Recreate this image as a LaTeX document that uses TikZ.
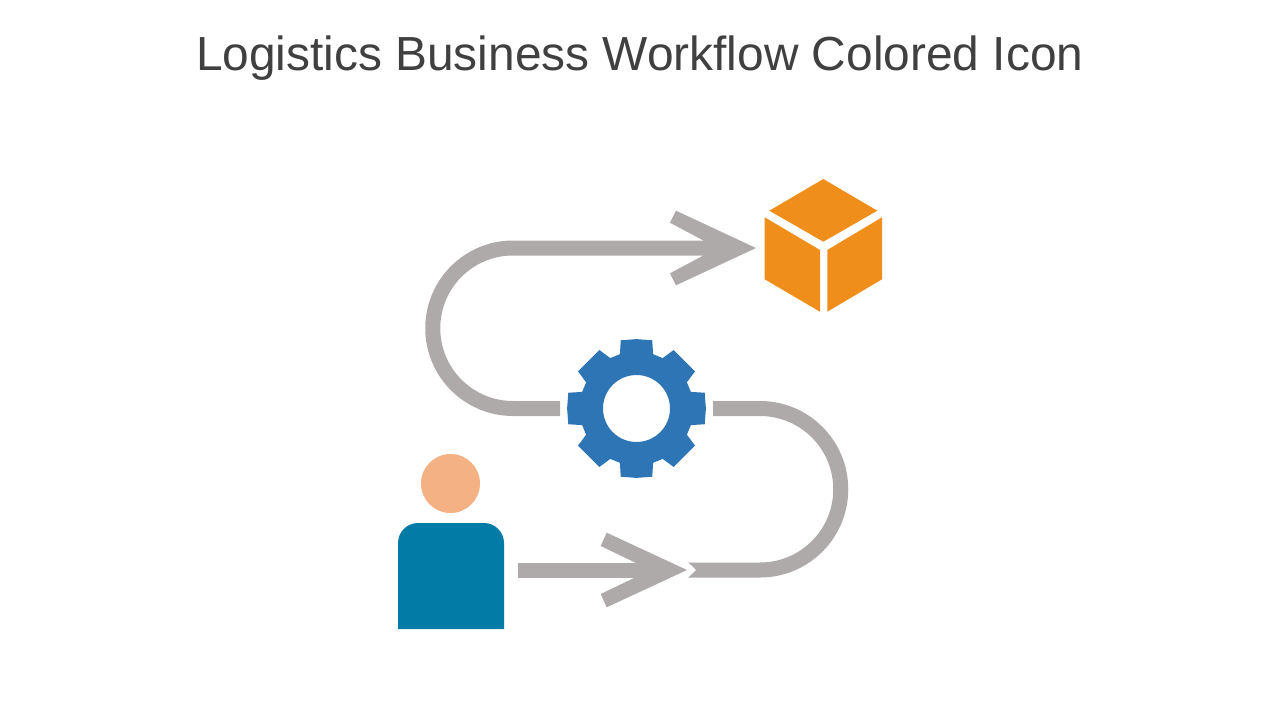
\documentclass[tikz,border=0pt]{standalone}
\usepackage{fontspec}
\setmainfont{Liberation Sans}
\definecolor{flowgrey}{HTML}{AEAAAA}
\definecolor{gearblue}{HTML}{2E75B6}
\definecolor{boxorange}{HTML}{F08E1B}
\definecolor{skin}{HTML}{F4B183}
\definecolor{bodyteal}{HTML}{027BA7}
\definecolor{titlegrey}{HTML}{404040}
\tikzset{
  flow/.style={draw=flowgrey,line width=15pt},
  headfill/.style={fill=flowgrey},
  anchorbox/.style={inner sep=0pt,outer sep=0pt},
}
\begin{document}
\begin{tikzpicture}[x=1pt,y=-1pt]
\useasboundingbox (0,0) rectangle (1280,720);
\fill[white] (0,0) rectangle (1280,720);
\node[anchorbox,text=titlegrey,font=\fontsize{47.85}{56}\selectfont] (title) at (639.7,58) {Logistics Business Workflow Colored Icon};
% person
\node[anchorbox,circle,fill=skin,minimum size=59pt] (head) at (450.5,483.5) {};
\node[anchorbox,minimum width=106pt,minimum height=106pt] (person) at (451,576) {};
\fill[bodyteal] (person.south west) -- (398,543) arc[start angle=180,end angle=270,radius=20] -- (484,523) arc[start angle=270,end angle=360,radius=20] -- (person.south east) -- cycle;
% gear
\node[anchorbox,circle,minimum size=153pt] (gear) at (636.5,408.5) {};
\fill[gearblue,even odd rule,shift={(gear.center)}]
  (-13:70)
  \foreach \a in {0,90,180,270}{
    -- (\a-13:70) -- (\a:69.4) -- (\a+13:70)
    -- (\a+17:56.8) -- (\a+27.5:56.8)
    -- (\a+32.4:69.3) -- (\a+45:67.6) -- (\a+57.6:69.3)
    -- (\a+62.5:56.8) -- (\a+73:56.8)
  } -- cycle
  (0,0) circle[radius=33.5];
% cube
\node[anchorbox,minimum width=118pt,minimum height=133pt] (box) at (823.3,245.5) {};
\fill[boxorange] (823.3,179) -- (877.3,210.7) -- (823.3,241.7) -- (769.3,210.7) -- cycle;
\fill[boxorange] (764.7,217.3) -- (820,250) -- (820,311.7) -- (764.7,279.3) -- cycle;
\fill[boxorange] (882,217.3) -- (827.3,250) -- (827.3,311.7) -- (882,279.3) -- cycle;
% connectors
\coordinate (a1start) at (518,570);
\coordinate (a1tip) at (687,570);
\coordinate (a2tail) at (688,570);
\coordinate (a3tip) at (756,248);
\draw[flow] (a1start) -- (640,570);
\draw[flow] (gear.east) -- (760,408.5) arc[start angle=-90,end angle=90,radius=80.75] -- (a2tail);
\fill[white] (686,560.5) -- (696,570) -- (686,579.5) -- cycle;
\fill[headfill] (a1tip) -- (606.7,532.7) -- (600.7,546) -- (635,562.5) -- (635,577.5) -- (600.7,594) -- (606.7,607.3) -- cycle;
\draw[flow] (gear.west) -- (513,408.5) arc[start angle=90,end angle=270,radius=80.25] -- (705,248);
\fill[headfill] (a3tip) -- (676,210.7) -- (670,222.7) -- (703.3,240.5) -- (703.3,255.5) -- (670,273.3) -- (676,285.3) -- cycle;
\end{tikzpicture}
\end{document}
